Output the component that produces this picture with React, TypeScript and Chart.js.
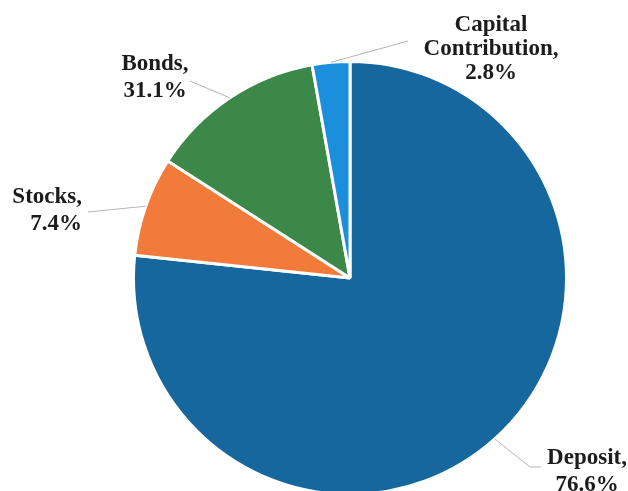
import React, { useEffect, useRef } from "react";
import { Chart, registerables } from "chart.js";

Chart.register(...registerables);

const categories = ["Deposit", "Stocks", "Bonds", "Capital Contribution"];
const values = [76.6, 7.4, 13.1, 2.8];
const percentLabels = ["76.6%", "7.4%", "31.1%", "2.8%"];
const colors = ["#15679e", "#f27b3b", "#3c8848", "#1b8fdc"];

// label placement (page pixels): anchor x, first baseline y, alignment, line height, leader path
const labelLayout = [
  { x: 587, y: 464, align: "center", lh: 27, path: [[530, 467], [541, 467]] },
  { x: 82, y: 203, align: "right", lh: 27, path: [[88, 212]] },
  { x: 155, y: 70, align: "center", lh: 27, path: [[190, 81]] },
  { x: 491, y: 31, align: "center", lh: 24, path: [[408, 41]] },
];

const labelPlugin = {
  id: "pieLabels",
  afterDraw(chart: any) {
    const ctx = chart.ctx;
    const meta = chart.getDatasetMeta(0);
    ctx.save();
    meta.data.forEach((arc: any, i: number) => {
      const { x, y, startAngle, endAngle, outerRadius } = arc.getProps(
        ["x", "y", "startAngle", "endAngle", "outerRadius"],
        true
      );
      const mid = (startAngle + endAngle) / 2;
      const px = x + Math.cos(mid) * outerRadius;
      const py = y + Math.sin(mid) * outerRadius;
      const L = labelLayout[i];
      ctx.beginPath();
      ctx.strokeStyle = "#b4b4b4";
      ctx.lineWidth = 1;
      ctx.moveTo(px, py);
      L.path.forEach((p) => ctx.lineTo(p[0], p[1]));
      ctx.stroke();

      const words = categories[i].split(" ");
      words[words.length - 1] += ",";
      const lines = [...words, percentLabels[i]];
      ctx.fillStyle = "#1c1c1c";
      ctx.font = 'bold 23px "Liberation Serif", "Times New Roman", serif';
      ctx.textAlign = L.align;
      ctx.textBaseline = "alphabetic";
      lines.forEach((t, k) => ctx.fillText(t, L.x, L.y + k * L.lh));
    });
    ctx.restore();
  },
};

export default function App() {
  const ref = useRef<HTMLCanvasElement>(null);
  useEffect(() => {
    const chart = new Chart(ref.current!, {
      type: "pie",
      data: {
        labels: categories,
        datasets: [
          {
            data: values,
            backgroundColor: colors,
            borderColor: "#ffffff",
            borderWidth: 3,
          },
        ],
      },
      options: {
        responsive: false,
        animation: false,
        layout: { padding: { left: 132, right: 60, top: 60, bottom: 24 } },
        plugins: {
          legend: { display: false },
          tooltip: { enabled: false },
        },
      },
      plugins: [labelPlugin],
    });
    return () => chart.destroy();
  }, []);
  return (
    <div
      style={{
        position: "fixed",
        left: 0,
        top: 0,
        width: 628,
        height: 491,
        overflow: "hidden",
        background: "#ffffff",
      }}
    >
      <canvas ref={ref} width={628} height={520} style={{ display: "block" }} />
    </div>
  );
}
